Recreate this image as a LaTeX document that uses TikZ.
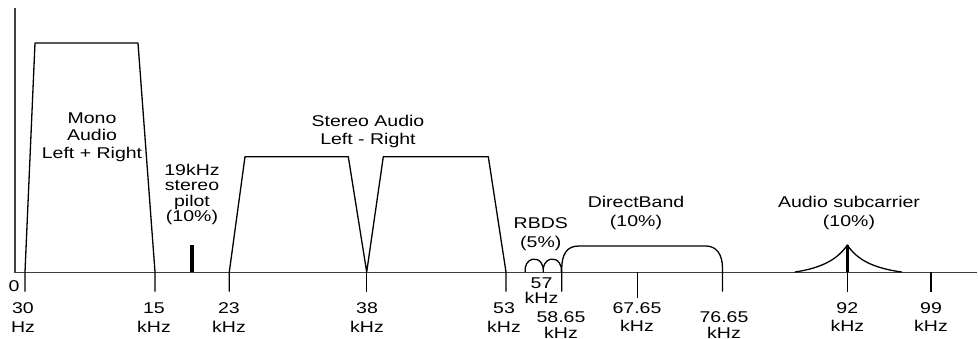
\documentclass[tikz,border=0pt]{standalone}
\usepackage{fontspec}
\setmainfont{Liberation Sans}[FakeStretch=1.25]
\begin{document}
\begin{tikzpicture}[x=1pt,y=-1pt,
  band/.style={line width=1.3pt, line join=round},
  axisline/.style={line width=1.2pt, black!75},
  tickline/.style={line width=1.3pt},
  bar/.style={line width=4pt},
  lbl/.style={inner sep=0pt, align=center, anchor=north,
    font=\fontsize{15.6}{#1}\selectfont},
  lbl/.default=18]
\useasboundingbox (0,0) rectangle (978,338);
% axes
\coordinate (ytop) at (15,8);
\coordinate (orig) at (15,272.5);
\coordinate (xend) at (977,272.5);
\draw[axisline] (ytop) -- (orig) -- (xend);
% mono band
\draw[band] (25,291.7) -- (25,272) -- (35,43) -- (138,43) -- (155,272) -- (155,291.7);
% pilot
\draw[bar] (192,245) -- (192,272);
% stereo bands
\draw[band] (229.3,291.7) -- (229.3,272) -- (245,156.7) -- (348.3,156.7) -- (366.7,272)
  -- (383.3,156.7) -- (488.3,156.7) -- (506,272) -- (506,291.7);
\draw[tickline] (366.7,272) -- (366.7,291.7);
% RBDS humps
\draw[band] (525.14,271.9) arc[start angle=170,end angle=370,x radius=9.2,y radius=11]
  arc[start angle=170,end angle=370,x radius=9.2,y radius=11];
% DirectBand
\draw[band] (561.7,291.7) -- (561.7,270) .. controls (561.7,255) and (566,246) .. (579,246)
  -- (706,246) .. controls (716,246) and (722.5,254) .. (722.5,268) -- (722.5,291.7);
\draw[tickline] (637.7,272) -- (637.7,298.3);
% Audio subcarrier
\draw[band] (795,272) .. controls (822,268) and (838,259) .. (847.3,245)
  .. controls (856.6,259) and (872,268) .. (901.7,272);
\draw[bar, line width=3.5pt] (847.3,245) -- (847.3,272);
\draw[tickline] (847.3,272) -- (847.3,291.7);
\draw[tickline] (931,272) -- (931,291.7);
% labels
\node[lbl] (l0) at (14,280) {0};
\node[lbl=19] (l30) at (23,302.5) {30\\Hz};
\node[lbl=19] (l15) at (154,302.5) {15\\kHz};
\node[lbl=19] (l23) at (229,302.5) {23\\kHz};
\node[lbl=19] (l38) at (367,302.5) {38\\kHz};
\node[lbl=19] (l53) at (504,302.5) {53\\kHz};
\node[lbl=15] (l57) at (541.5,277.8) {57\\kHz};
\node[lbl=16.3] (l5865) at (561,311.2) {58.65\\kHz};
\node[lbl=17.7] (l6765) at (637,302.5) {67.65\\kHz};
\node[lbl=16.3] (l7665) at (724,311.2) {76.65\\kHz};
\node[lbl=17.4] (l92) at (847.3,302.8) {92\\kHz};
\node[lbl=17.4] (l99) at (931,302.8) {99\\kHz};
\node[lbl=17.7] (mono) at (92,112.3) {Mono\\Audio\\Left + Right};
\node[lbl=15.3] (pilot) at (192,164) {19kHz\\stereo\\pilot\\(10\%)};
\node[lbl=17.3] (stereo) at (368,115.2) {Stereo Audio\\Left - Right};
\node[lbl=18.4] (rbds) at (540.8,217.8) {RBDS\\(5\%)};
\node[lbl=18.3] (direct) at (636,196.2) {DirectBand\\(10\%)};
\node[lbl=18.3] (sub) at (849,196.2) {Audio subcarrier\\(10\%)};
\end{tikzpicture}
\end{document}
